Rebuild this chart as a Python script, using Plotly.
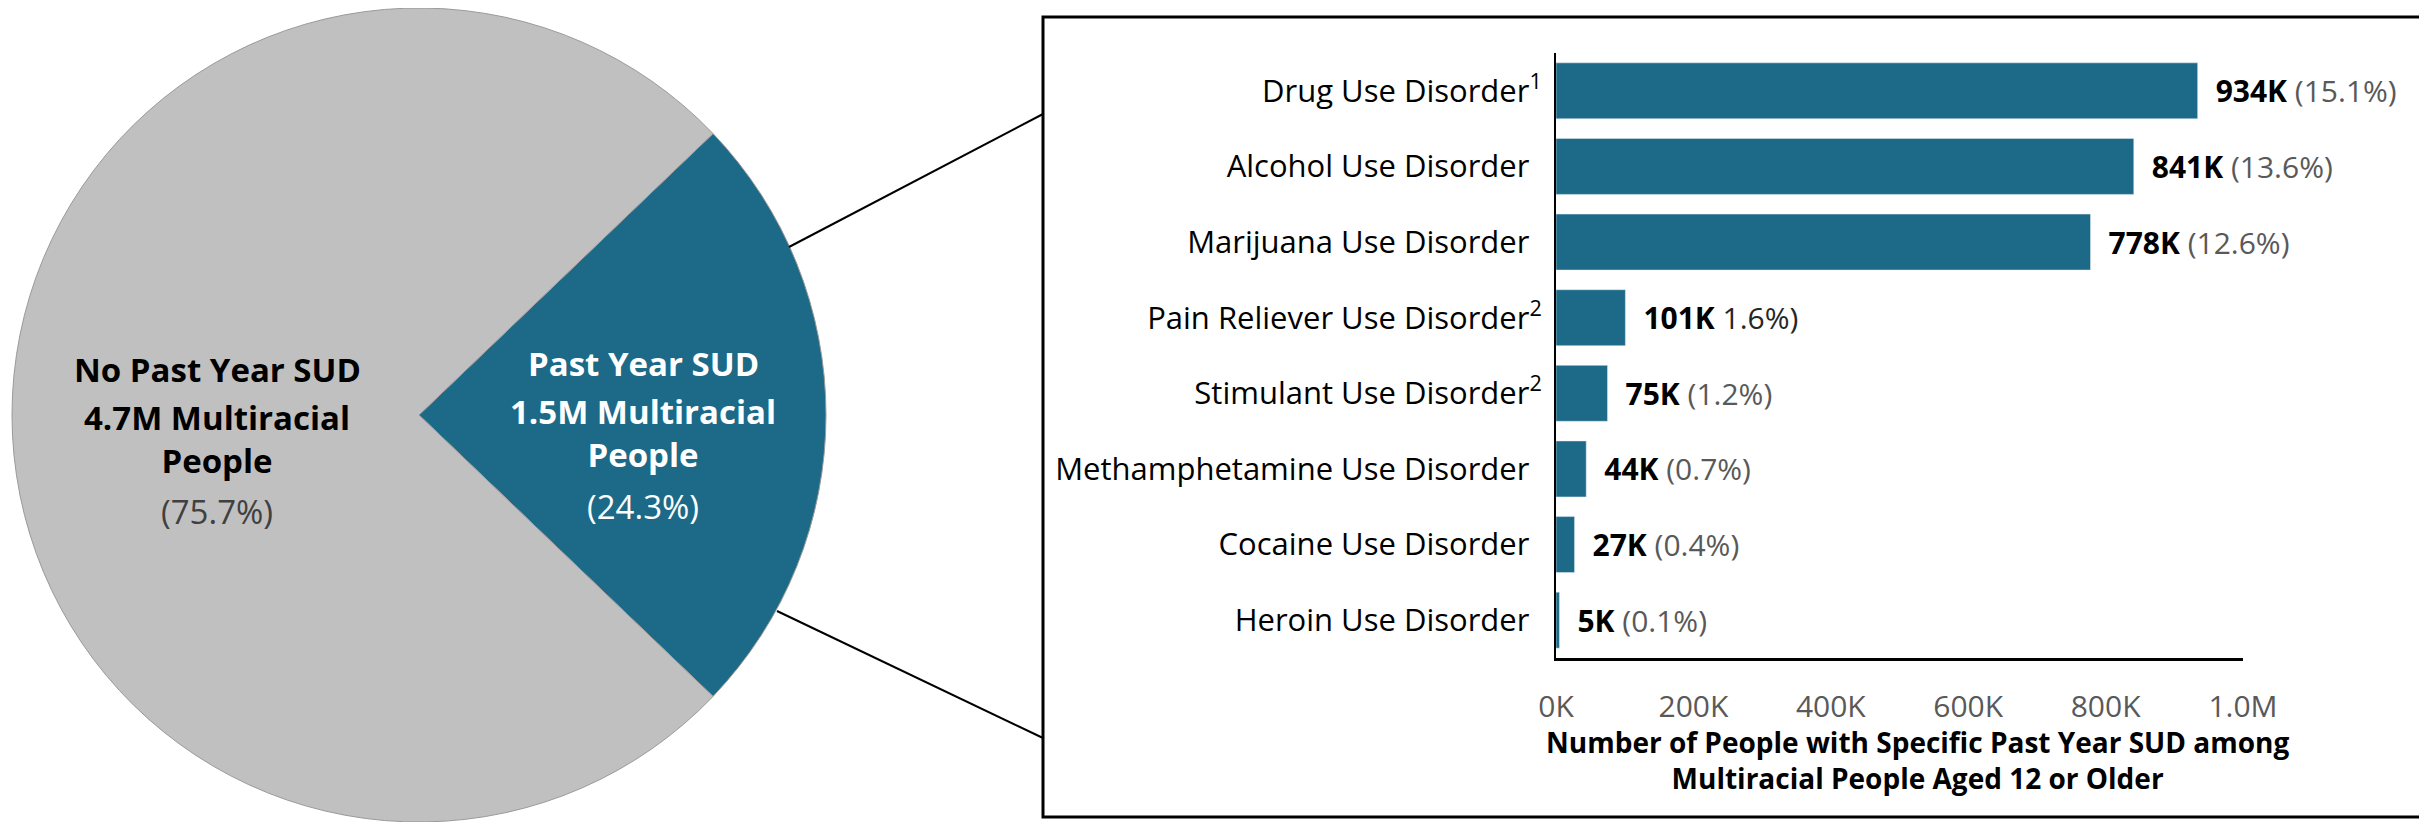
import plotly.graph_objects as go

# The page adds an 8px body margin, so the figure is drawn 8px smaller
# and every reference pixel position p is placed at p - 8.
OFF = 8
W, H = 2427 - OFF, 822 - OFF

# ---- data ----
pie_labels = ["Past Year SUD", "No Past Year SUD"]
pie_counts = ["1.5M", "4.7M"]
pie_pcts = [24.3, 75.7]

categories = [
    "Drug Use Disorder", "Alcohol Use Disorder", "Marijuana Use Disorder",
    "Pain Reliever Use Disorder", "Stimulant Use Disorder",
    "Methamphetamine Use Disorder", "Cocaine Use Disorder", "Heroin Use Disorder",
]
footnotes = ["1", "", "", "2", "2", "", "", ""]
values_k = [934, 841, 778, 101, 75, 44, 27, 5]
pct_labels = ["(15.1%)", "(13.6%)", "(12.6%)", "1.6%)", "(1.2%)", "(0.7%)", "(0.4%)", "(0.1%)"]
x_tickvals = [0, 200000, 400000, 600000, 800000, 1000000]
x_ticktext = ["0K", "200K", "400K", "600K", "800K", "1.0M"]
x_title = "Number of People with Specific Past Year SUD among<br>Multiracial People Aged 12 or Older"

TEAL = "#1C6A87"
GRAY = "#C0C0C0"
FONT = "Open Sans"


def fx(p):
    return (p - OFF) / W


def fy(p):
    return 1 - (p - OFF) / H


ytext = []
for c, f in zip(categories, footnotes):
    if f:
        ytext.append(f"{c}<sup>{f}</sup>")
    else:
        ytext.append(f"{c}<sup><span style='color:rgba(0,0,0,0)'>0</span></sup>")

bar_text = [
    f"\u2002<b>{v}K</b> <span style='color:{'#262626' if not p.startswith('(') else '#595959'}'>{p}</span>"
    for v, p in zip(values_k, pct_labels)
]

fig = go.Figure()

fig.add_trace(go.Pie(
    labels=pie_labels,
    values=pie_pcts,
    marker=dict(colors=[TEAL, GRAY], line=dict(color="#9A9A9A", width=1)),
    sort=False,
    direction="clockwise",
    rotation=90 - pie_pcts[0] / 100 * 360 / 2,
    textinfo="none",
    hoverinfo="label+percent",
    domain=dict(x=[fx(12), fx(826)], y=[0, 1]),
    showlegend=False,
))

fig.add_trace(go.Bar(
    y=categories,
    x=[v * 1000 for v in values_k],
    orientation="h",
    marker=dict(color=TEAL),
    width=0.74,
    text=bar_text,
    textposition="outside",
    textfont=dict(family=FONT, size=30, color="#000000"),
    constraintext="none",
    cliponaxis=False,
    showlegend=False,
))

fig.update_layout(
    width=W, height=H, autosize=False,
    margin=dict(l=0, r=0, t=0, b=0),
    paper_bgcolor="white", plot_bgcolor="white",
    font=dict(family=FONT, color="#000000"),
    xaxis=dict(
        domain=[fx(1556), fx(2243)],
        range=[0, 1000000],
        tickvals=x_tickvals, ticktext=x_ticktext,
        tickfont=dict(family=FONT, size=30, color="#595959"),
        showgrid=False, zeroline=False,
        showline=True, linecolor="#000000", linewidth=3,
        ticks="", ticklabelstandoff=20,
        automargin=False,
        fixedrange=True,
    ),
    yaxis=dict(
        domain=[fy(658), fy(53)],
        categoryorder="array", categoryarray=categories,
        autorange="reversed",
        tickvals=categories, ticktext=ytext,
        tickfont=dict(family=FONT, size=31, color="#000000"),
        showgrid=False, zeroline=False,
        showline=True, linecolor="#000000", linewidth=2,
        ticks="", ticklabelstandoff=6,
        automargin=False,
        fixedrange=True,
    ),
)

shapes = [
    dict(type="rect", xref="paper", yref="paper",
         x0=fx(1043), x1=fx(2421), y0=fy(817), y1=fy(17),
         line=dict(color="#000000", width=3), fillcolor="rgba(0,0,0,0)"),
    dict(type="line", xref="paper", yref="paper",
         x0=fx(789), y0=fy(247), x1=fx(1043), y1=fy(114),
         line=dict(color="#000000", width=2)),
    dict(type="line", xref="paper", yref="paper",
         x0=fx(777), y0=fy(611), x1=fx(1043), y1=fy(738),
         line=dict(color="#000000", width=2)),
]
fig.update_layout(shapes=shapes)

PS = 33
anns = []
# gray slice label
gx = 217
anns.append(dict(x=fx(gx), y=fy(369), text=f"<b>{pie_labels[1]}</b>", font=dict(size=PS, color="#000000")))
anns.append(dict(x=fx(gx), y=fy(439), text=f"<b>{pie_counts[1]} Multiracial<br>People</b>", font=dict(size=PS, color="#000000")))
anns.append(dict(x=fx(gx), y=fy(511), text=f"({pie_pcts[1]:.1f}%)", font=dict(size=PS, color="#404040")))
# teal slice label
tx = 643
anns.append(dict(x=fx(tx), y=fy(363), text=f"<b>{pie_labels[0]}</b>", font=dict(size=PS, color="#FFFFFF")))
anns.append(dict(x=fx(tx), y=fy(433), text=f"<b>{pie_counts[0]} Multiracial<br>People</b>", font=dict(size=PS, color="#FFFFFF")))
anns.append(dict(x=fx(tx), y=fy(506), text=f"({pie_pcts[0]:.1f}%)", font=dict(size=PS, color="#FFFFFF")))
# x-axis title
anns.append(dict(x=fx(1917), y=fy(760), text=f"<b>{x_title}</b>", font=dict(size=28, color="#000000")))
for a in anns:
    a.update(xref="paper", yref="paper", showarrow=False, xanchor="center", yanchor="middle")
    a["font"]["family"] = FONT
fig.update_layout(annotations=anns)

fig.write_html("out.html")
